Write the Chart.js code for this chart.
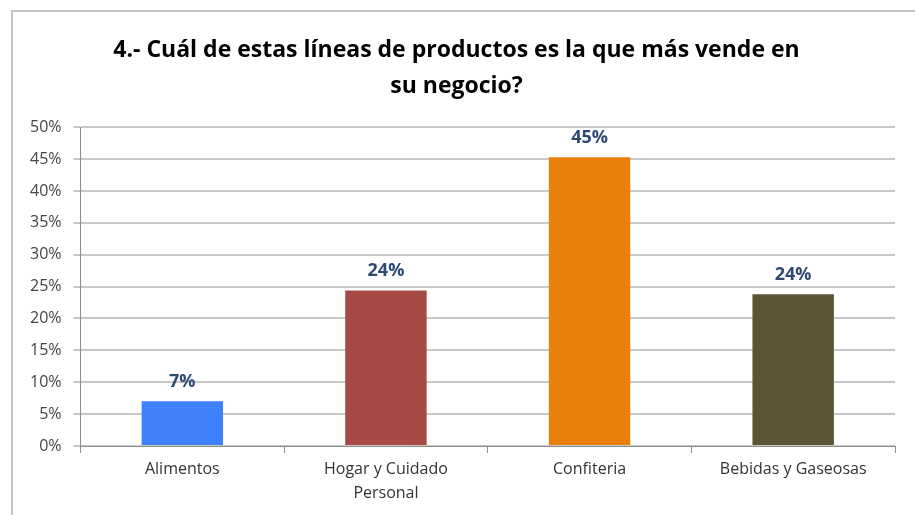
<!DOCTYPE html>
<html>
<head>
<meta charset="utf-8">
<script src="https://cdn.jsdelivr.net/npm/chart.js@4.4.0/dist/chart.umd.min.js"></script>
<style>
  html, body { margin: 0; padding: 0; background: #fff; }
  #wrap { width: 915px; height: 515px; position: relative; }
</style>
</head>
<body>
<div id="wrap"><canvas id="graph" width="915" height="515"></canvas></div>
<script>
const categories = [["Alimentos"], ["Hogar y Cuidado", "Personal"], ["Confiteria"], ["Bebidas y Gaseosas"]];
const shares = [7.0, 24.4, 45.3, 23.8];
const shareLabels = ["7%", "24%", "45%", "24%"];
const barColors = ["#3f80fd", "#a54a44", "#ea800c", "#5c5535"];
const titleLines = ["4.- Cuál de estas líneas de productos es la que más vende en", "su negocio?"];

// gray frame like the one around the original picture
const framePlugin = {
    id: "frame",
    beforeDraw(chart) {
        const c = chart.ctx;
        c.save();
        c.strokeStyle = "#c4c4c4";
        c.lineWidth = 2;
        c.beginPath();
        c.moveTo(12, 515);
        c.lineTo(12, 11);
        c.lineTo(915, 11);
        c.stroke();
        c.restore();
    }
};

// value labels above each bar
const valuePlugin = {
    id: "values",
    afterDatasetsDraw(chart) {
        const c = chart.ctx;
        const meta = chart.getDatasetMeta(0);
        c.save();
        c.font = "bold 18px 'Open Sans', sans-serif";
        c.fillStyle = "#2e4a72";
        c.textAlign = "center";
        c.textBaseline = "alphabetic";
        meta.data.forEach((bar, i) => {
            c.fillText(shareLabels[i], bar.x, bar.y - 14);
        });
        c.restore();
    }
};

const ctx = document.getElementById("graph");

new Chart(ctx, {
    type: "bar",
    data: {
        labels: categories,
        datasets: [{
            data: shares,
            backgroundColor: barColors,
            barPercentage: 0.4,
            categoryPercentage: 1.0
        }]
    },
    options: {
        responsive: false,
        animation: false,
        layout: { padding: { left: 18, right: 20, top: 14, bottom: 6 } },
        plugins: {
            legend: { display: false },
            tooltip: { enabled: false },
            title: {
                display: true,
                text: titleLines,
                color: "#000",
                font: { family: "'Open Sans', sans-serif", size: 23, weight: "bold", lineHeight: 1.57 },
                padding: { top: 18, bottom: 23 }
            }
        },
        scales: {
            x: {
                grid: {
                    display: true,
                    drawOnChartArea: false,
                    drawTicks: true,
                    tickLength: 7,
                    offset: true,
                    color: "#8c8c8c"
                },
                border: { color: "#8c8c8c", width: 1 },
                ticks: {
                    color: "#333",
                    font: { family: "'Open Sans', sans-serif", size: 16, lineHeight: 1.5 },
                    padding: 4,
                    maxRotation: 0
                }
            },
            y: {
                min: 0,
                max: 50,
                grid: {
                    color: "#c8c8c8",
                    lineWidth: 2,
                    tickLength: 7,
                    tickColor: "#8c8c8c",
                    tickWidth: 1
                },
                border: { color: "#8c8c8c", width: 1 },
                ticks: {
                    stepSize: 5,
                    color: "#444",
                    font: { family: "'Open Sans', sans-serif", size: 16 },
                    padding: 12,
                    callback: v => v + "%"
                }
            }
        }
    },
    plugins: [framePlugin, valuePlugin]
});
</script>
</body>
</html>
